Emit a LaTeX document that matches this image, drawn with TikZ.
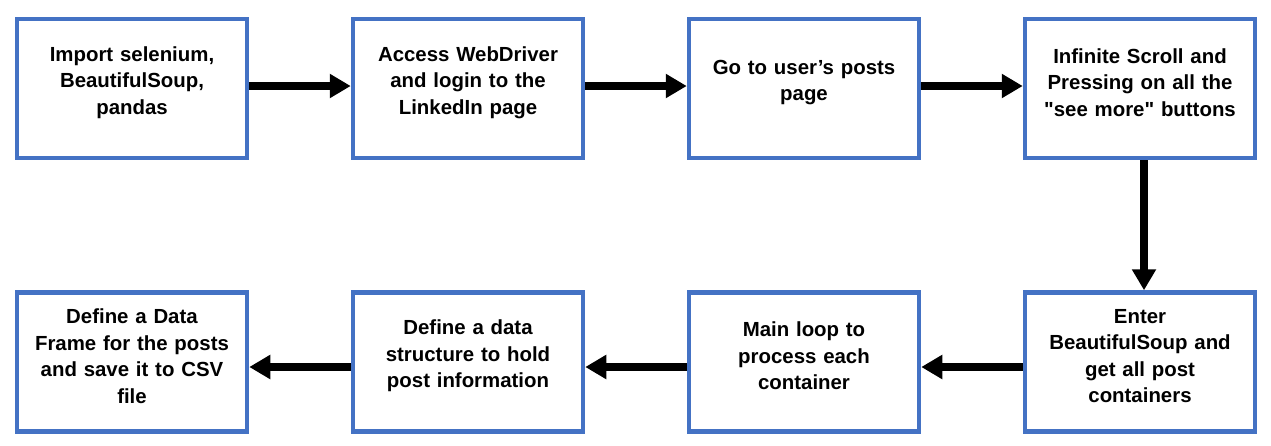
\documentclass[tikz,border=0pt]{standalone}
\usepackage{fontspec}
\setmainfont{Liberation Sans}
\usetikzlibrary{arrows.meta,positioning}

\definecolor{boxblue}{HTML}{4472C4}

\begin{document}
\begin{tikzpicture}[
    node distance=101.5pt,
    box/.style={rectangle,draw=boxblue,line width=4.5pt,minimum width=230pt,minimum height=139pt,
                align=center,text width=222pt,font=\bfseries\fontsize{20.4}{26.5}\selectfont,
                execute at end node={\endgraf\vspace*{12pt}}},
    arrow/.style={-{Triangle[width=23pt,length=21pt]},line width=8.5pt}
]
\useasboundingbox (0,0) rectangle (1271pt,-445pt);

% Top row
\node[box] (imports) at (132pt,-88.5pt) {Import selenium,\\BeautifulSoup,\\pandas};
\node[box,right=of imports] (login) {Access WebDriver\\and login to the\\LinkedIn page};
\node[box,right=of login] (posts) {Go to user’s posts\\page};
\node[box,right=of posts] (scroll) {Infinite Scroll and\\Pressing on all the\\\textquotedbl see more\textquotedbl{} buttons};

% Bottom row
\node[box,below=130pt of scroll] (soup) {Enter\\BeautifulSoup and\\get all post\\containers};
\node[box,left=of soup] (mainloop) {Main loop to\\process each\\container};
\node[box,left=of mainloop] (struct) {Define a data\\structure to hold\\post information};
\node[box,left=of struct] (frame) {Define a Data\\Frame for the posts\\and save it to CSV\\file};

% Arrows
\draw[arrow] ([yshift=2.5pt]imports.east) -- ([yshift=2.5pt]login.west);
\draw[arrow] ([yshift=2.5pt]login.east) -- ([yshift=2.5pt]posts.west);
\draw[arrow] ([yshift=2.5pt]posts.east) -- ([yshift=2.5pt]scroll.west);
\draw[arrow] ([xshift=4pt]scroll.south) -- ([xshift=4pt]soup.north);
\draw[arrow] ([yshift=-5pt]soup.west) -- ([yshift=-5pt]mainloop.east);
\draw[arrow] ([yshift=-5pt]mainloop.west) -- ([yshift=-5pt]struct.east);
\draw[arrow] ([yshift=-5pt]struct.west) -- ([yshift=-5pt]frame.east);

\end{tikzpicture}
\end{document}
